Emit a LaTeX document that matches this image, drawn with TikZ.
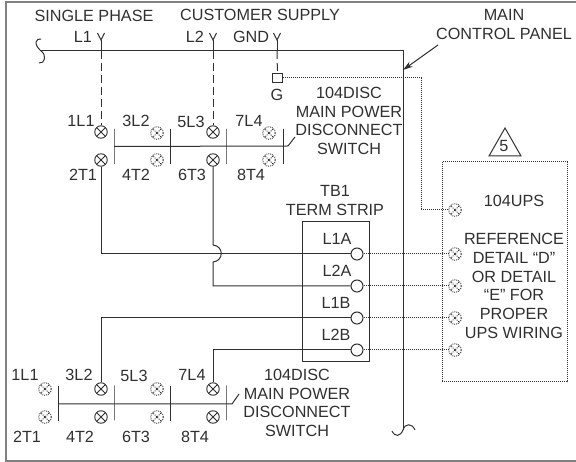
\documentclass[tikz,border=0pt]{standalone}
\usepackage{fontspec}
\setmainfont{Liberation Sans}
\usetikzlibrary{arrows.meta}
\definecolor{inkgray}{HTML}{303030}
\tikzset{
  wire/.style={draw=inkgray, line width=1pt},
  dotwire/.style={draw=inkgray, line width=1pt, densely dotted},
  dashwire/.style={draw=inkgray, line width=1pt, dash pattern=on 8pt off 4pt},
  lbl/.style={text=inkgray, inner sep=0pt, align=center, font=\fontsize{16.2}{18.8}\selectfont},
  swon/.style={circle, draw=inkgray, line width=0.9pt, fill=white, inner sep=0pt, minimum size=12.5pt,
    path picture={\draw[inkgray, line width=0.9pt] (path picture bounding box.south west) -- (path picture bounding box.north east)
      (path picture bounding box.north west) -- (path picture bounding box.south east);}},
  swoff/.style={circle, draw=inkgray, line width=0.9pt, densely dotted, fill=white, inner sep=0pt, minimum size=12.5pt,
    path picture={\draw[inkgray, line width=0.9pt, densely dotted] (path picture bounding box.south west) -- (path picture bounding box.north east)
      (path picture bounding box.north west) -- (path picture bounding box.south east);}},
  bar/.style={draw=inkgray, line width=0.8pt, inner sep=0pt, outer sep=0pt, minimum width=0pt, minimum height=35pt},
  dotbar/.style={bar, line width=0.6pt, densely dotted},
  term/.style={circle, draw=inkgray, line width=1pt, fill=white, inner sep=0pt, minimum size=12pt}
}
\begin{document}
\begin{tikzpicture}[x=1pt, y=-1pt]
\useasboundingbox (0,0) rectangle (576,462);
% frame
\draw[wire, line width=1.2pt, draw=gray] (576,2) -- (6,2) -- (6,461) -- (576,461);
% supply
\node[lbl] (phase) at (94,16){SINGLE PHASE};
\node[lbl] (supply) at (260,15){CUSTOMER SUPPLY};
\node[lbl] (panel) at (504,24.5){MAIN\\CONTROL PANEL};
\node[lbl] (l1) at (83,37){L1};
\node[lbl] (l2) at (195,37){L2};
\node[lbl] (gnd) at (251,37){GND};
\coordinate (busl) at (41,51);
\coordinate (busr) at (403,51);
\coordinate (busb) at (403,430);
\coordinate (panelarrow) at (403,70);
\coordinate (paneltail) at (438,45);
\draw[wire](busl) -- (busr) -- (busb);
\draw[wire](busl) .. controls (33,44) and (36,38) .. (41,39);
\draw[wire](busl) .. controls (47,55) and (45,64) .. (39,63);
\draw[wire](busb) .. controls (400,437) and (395,437) .. (392,431);
\draw[wire](busb) .. controls (405,423) and (412,423) .. (415,430);
\draw[-{Stealth[length=10pt, width=6pt]}, wire](paneltail) -- (panelarrow);
% Y tips
\coordinate (y1t) at (101,40);
\coordinate (y1l) at (97.5,33);
\coordinate (y1r) at (104.5,33);
\coordinate (y2t) at (213,40);
\coordinate (y2l) at (209.5,33);
\coordinate (y2r) at (216.5,33);
\coordinate (y3t) at (277,40);
\coordinate (y3l) at (273.5,33);
\coordinate (y3r) at (280.5,33);
\draw[wire](y1l) -- (y1t) -- (y1r);
\draw[wire](y2l) -- (y2t) -- (y2r);
\draw[wire](y3l) -- (y3t) -- (y3r);
\node[draw=inkgray, line width=1pt, fill=white, minimum size=9.5pt, inner sep=0pt] (gbox) at (277.5,78){};
\node[lbl] (g) at (277,95){G};
\draw[wire](y3t) -- (277,51);
\draw[dashwire](277,51) -- (gbox);
% upper switch
\node[swon] (a1) at (101,132){};
\node[swon] (a2) at (101,160){};
\node[swoff] (a3) at (157,133){};
\node[swoff] (a4) at (157,160){};
\node[swon] (a5) at (213,132){};
\node[swon] (a6) at (213,160){};
\node[swoff] (a7) at (269,133){};
\node[swoff] (a8) at (269,160){};
\node[bar] (abar1) at (114,146.5){};
\node[dotbar] (abar2) at (170,146){};
\node[bar] (abar3) at (226,146.5){};
\node[dotbar] (abar4) at (283,146){};
\coordinate (aend) at (288,146);
\coordinate (aslash) at (295,137);
\draw[wire](abar1.center) -- (aend) -- (aslash);
\draw[wire](y1t) -- (101,51);
\draw[wire](y2t) -- (213,51);
\draw[dashwire](101,51) -- (a1);
\draw[dashwire](213,51) -- (a5);
\node[lbl] at (81,121){1L1};
\node[lbl] at (136,121){3L2};
\node[lbl] at (191,122){5L3};
\node[lbl] at (249,121){7L4};
\node[lbl] at (83,175){2T1};
\node[lbl] at (136,175){4T2};
\node[lbl] at (192,175){6T3};
\node[lbl] at (251,175){8T4};
\node[lbl] (disca) at (349,121){104DISC\\MAIN POWER\\DISCONNECT\\SWITCH};
% term strip
\node[lbl] (tb) at (335,200.5){TB1\\TERM STRIP};
\node[draw=inkgray, line width=1pt, minimum width=67pt, minimum height=140pt, inner sep=0pt] (strip) at (335.5,292){};
\node[lbl] at (337,239){L1A};
\node[lbl] at (337,271){L2A};
\node[lbl] at (336,303){L1B};
\node[lbl] at (336,335){L2B};
\node[term] (t1) at (357,254){};
\node[term] (t2) at (357,286){};
\node[term] (t3) at (357,318){};
\node[term] (t4) at (357,350){};
% lower switch
\node[swoff] (b1) at (45,389){};
\node[swoff] (b2) at (45,417){};
\node[swon] (b3) at (101,389){};
\node[swon] (b4) at (101,417){};
\node[swoff] (b5) at (157,389){};
\node[swoff] (b6) at (157,417){};
\node[swon] (b7) at (213,389){};
\node[swon] (b8) at (213,417){};
\node[dotbar] (bbar1) at (58,403){};
\node[bar] (bbar2) at (114,403){};
\node[dotbar] (bbar3) at (170,403){};
\node[bar] (bbar4) at (226,403){};
\coordinate (bend) at (232,404);
\coordinate (bslash) at (239,394);
\draw[wire](bbar1.center |- bend) -- (bend) -- (bslash);
\node[lbl] at (25,375){1L1};
\node[lbl] at (79,375){3L2};
\node[lbl] at (134,376){5L3};
\node[lbl] at (192,375){7L4};
\node[lbl] at (27,437){2T1};
\node[lbl] at (80,437){4T2};
\node[lbl] at (136,437){6T3};
\node[lbl] at (195,437){8T4};
\node[lbl] (discb) at (297,403){104DISC\\MAIN POWER\\DISCONNECT\\SWITCH};
% wiring
\coordinate (hopa) at (213,245);
\coordinate (hopb) at (213,262);
\draw[wire](a2) -- (101,254) -- (t1);
\draw[wire](a6) -- (hopa) .. controls (224,246) and (224,261) .. (hopb) -- (213,286) -- (t2);
\draw[wire](b3) -- (101,318) -- (t3);
\draw[wire](b7) -- (213,350) -- (t4);
% ups
\node[draw=inkgray, line width=1pt, densely dotted, minimum width=125pt, minimum height=220pt, inner sep=0pt] (ups) at (504.5,272){};
\coordinate (tri1) at (505,128);
\coordinate (tri2) at (489,156);
\coordinate (tri3) at (521,156);
\draw[wire](tri1) -- (tri2) -- (tri3) -- cycle;
\node[lbl] at (504,146){5};
\node[lbl] at (514,201){104UPS};
\node[lbl] at (514,286){REFERENCE\\DETAIL “D”\\OR DETAIL\\“E” FOR\\PROPER\\UPS WIRING};
\node[swoff] (u0) at (455,210){};
\node[swoff] (u1) at (455,254){};
\node[swoff] (u2) at (455,286){};
\node[swoff] (u3) at (455,318){};
\node[swoff] (u4) at (455,350){};
\coordinate (gd1) at (421,78);
\coordinate (gd2) at (421,210);
\draw[dotwire](gbox) -- (gd1) -- (gd2) -- (u0);
\draw[dotwire](t1) -- (u1);
\draw[dotwire](t2) -- (u2);
\draw[dotwire](t3) -- (u3);
\draw[dotwire](t4) -- (u4);
\end{tikzpicture}
\end{document}
